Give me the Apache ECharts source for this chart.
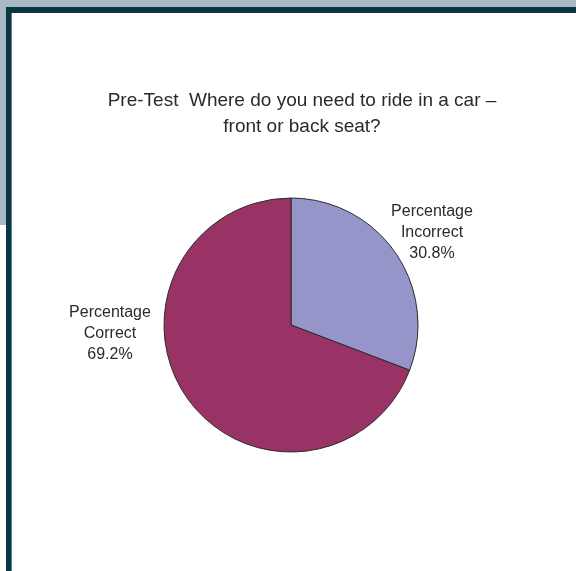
<!DOCTYPE html>
<html>
<head>
<meta charset="utf-8">
<script src="https://cdn.jsdelivr.net/npm/echarts@6/dist/echarts.min.js"></script>
<style>
  html, body { margin: 0; padding: 0; width: 576px; height: 571px; overflow: hidden; background: #ffffff; }
  .f { position: absolute; }
  #chart { position: absolute; left: 0; top: 0; width: 576px; height: 571px; }
</style>
</head>
<body>
<div class="f" style="left:0;top:0;width:576px;height:7px;background:#aabac5;"></div>
<div class="f" style="left:0;top:0;width:6px;height:225px;background:#aabac5;"></div>
<div class="f" style="left:6px;top:7px;width:570px;height:6px;background:#0c3646;"></div>
<div class="f" style="left:6px;top:7px;width:6px;height:564px;background:#0c3646;"></div>
<div class="f" style="left:11px;top:13px;width:1px;height:558px;background:#5d7f8b;"></div>
<div id="chart"></div>
<script>
const titleLines = ['Pre-Test  Where do you need to ride in a car \u2013', 'front or back seat?'];
const categories = ['Percentage\nIncorrect', 'Percentage\nCorrect'];
const values = [30.8, 69.2];
const sliceColors = ['#9595c9', '#993366'];

const chart = echarts.init(document.getElementById('chart'), null, { renderer: 'canvas' });
const labelSpots = [[432, 233], [110, 334]];

chart.setOption({
  animation: false,
  backgroundColor: 'transparent',
  title: {
    text: titleLines.join('\n'),
    left: 297,
    top: 83,
    textAlign: 'center',
    textStyle: {
      fontFamily: 'Liberation Sans, Arial, sans-serif',
      fontSize: 19,
      fontWeight: 'normal',
      color: '#2a2a2a',
      lineHeight: 26
    }
  },
  series: [{
    type: 'pie',
    center: [291, 325],
    radius: [0, 127],
    startAngle: 90,
    clockwise: true,
    silent: true,
    data: categories.map((c, i) => ({
      name: c,
      value: values[i],
      itemStyle: { color: sliceColors[i] }
    })),
    itemStyle: { borderColor: '#2b2b2b', borderWidth: 1 },
    label: {
      show: true,
      position: 'outside',
      formatter: p => p.name + '\n' + p.value.toFixed(1) + '%',
      fontFamily: 'Liberation Sans, Arial, sans-serif',
      fontSize: 16,
      lineHeight: 21,
      color: '#2a2a2a',
      align: 'center'
    },
    labelLine: { show: false },
    labelLayout: params => ({
      x: labelSpots[params.dataIndex][0],
      y: labelSpots[params.dataIndex][1],
      align: 'center',
      verticalAlign: 'middle'
    })
  }]
});
</script>
</body>
</html>
